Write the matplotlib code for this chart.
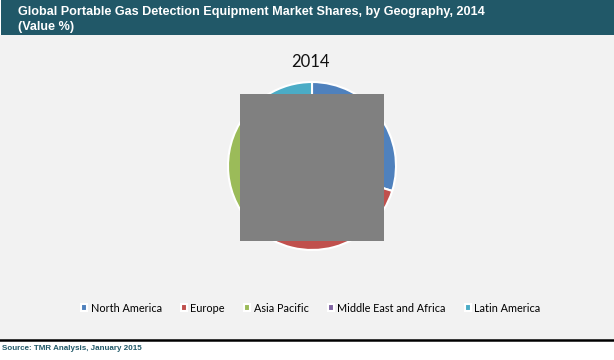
import matplotlib
matplotlib.use("Agg")
import matplotlib.pyplot as plt
from matplotlib.patches import Rectangle
from matplotlib.lines import Line2D

regions = ["North America", "Europe", "Asia Pacific", "Middle East and Africa", "Latin America"]
shares = [29.8, 32.0, 23.2, 6.0, 9.0]
colors = ["#4F81BD", "#C0504D", "#9BBB59", "#8064A2", "#4BACC6"]
title = "Global Portable Gas Detection Equipment Market Shares, by Geography, 2014\n(Value %)"
year_label = "2014"
source = "Source: TMR Analysis, January 2015"

W, H = 614, 360
fig = plt.figure(figsize=(W / 100, H / 100), dpi=100)
fig.patch.set_facecolor("white")


def fx(px):
    return px / W


def fy(py):
    return 1 - py / H


# background panels
fig.add_artist(Rectangle((0, fy(340)), 1, fy(35) - fy(340), transform=fig.transFigure,
                         facecolor="#F2F2F2", edgecolor="none", zorder=0))
fig.add_artist(Rectangle((fx(1), fy(35)), 1, 1, transform=fig.transFigure,
                         facecolor="#215868", edgecolor="none", zorder=0))
fig.add_artist(Line2D([0, 1], [fy(340), fy(340)], transform=fig.transFigure,
                      color="black", lw=1.8))

fig.text(fx(18), fy(19.5), title, color="white", fontsize=9.1, fontweight="bold",
         family="Liberation Sans", ha="left", va="center", linespacing=1.35)
fig.text(fx(2), fy(349), source, color="#215868", fontsize=5.8, fontweight="bold",
         family="Liberation Sans", ha="left", va="center")
fig.text(fx(310), fy(62), year_label, fontsize=12, family="Lato", ha="center",
         va="center", color="#111111")

# pie
cx, cy, r = 312, 166, 84
ax = fig.add_axes([fx(cx - r), fy(cy + r), fx(2 * r), (2 * r) / H])
wedges, _ = ax.pie(shares, colors=colors, startangle=90, counterclock=False,
                   wedgeprops=dict(edgecolor="white", linewidth=1.5))
ax.set_xlim(-1, 1)
ax.set_ylim(-1, 1)
ax.set_aspect("equal")
ax.axis("off")

# grey box covering the chart centre
fig.add_artist(Rectangle((fx(240), fy(241)), fx(144), (241 - 94) / H,
                         transform=fig.transFigure, facecolor="#808080",
                         edgecolor="none", zorder=10))

fig.legend(wedges, regions, loc="center", bbox_to_anchor=(fx(311), fy(308)),
           ncol=5, frameon=False, handlelength=0.55, handleheight=0.55,
           handletextpad=0.3, columnspacing=1.8, prop={"family": "Lato", "size": 7.8})

fig.savefig("out.png", dpi=100)
